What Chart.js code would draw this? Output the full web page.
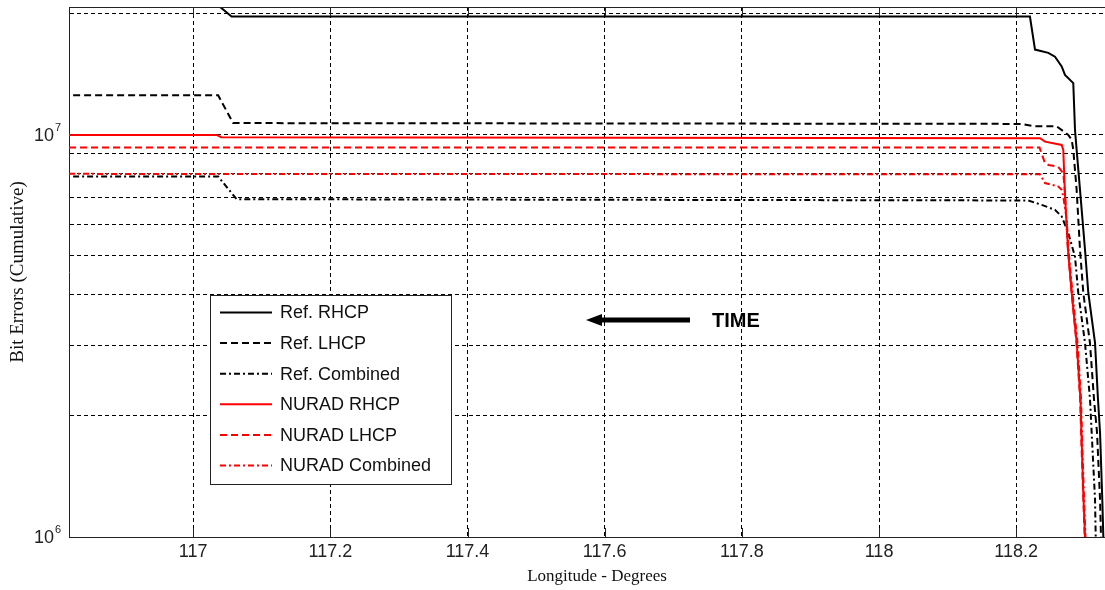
<!DOCTYPE html>
<html>
<head>
<meta charset="utf-8">
<script src="https://cdn.jsdelivr.net/npm/chart.js@4.4.0/dist/chart.umd.min.js"></script>
<style>
  html, body { margin: 0; padding: 0; background: #fff; overflow: hidden; }
  canvas { display: block; }
</style>
</head>
<body>
<canvas id="chart" width="1125" height="590"></canvas>
<script>
// longitude (degrees) and cumulative bit errors for each receiver track
const refRhcpLon = [116.82, 117.018, 117.056, 118.220, 118.2274, 118.2468, 118.2565, 118.2663, 118.2711, 118.2832, 118.2857, 118.2881, 118.2930, 118.3003, 118.3051, 118.3149, 118.3192, 118.3222, 118.3255, 118.3270, 118.3275];
const refRhcpErr = [2.23e7, 2.23e7, 1.97e7, 1.97e7, 1.63e7, 1.60e7, 1.565e7, 1.48e7, 1.41e7, 1.345e7, 1.03e7, 9.18e6, 7.30e6, 5.18e6, 4.05e6, 3.04e6, 2.20e6, 1.82e6, 1.24e6, 1.0e6, 9.5e5];

const refLhcpLon = [116.825, 117.0365, 117.0583, 118.2079, 118.2274, 118.2590, 118.2759, 118.2809, 118.2832, 118.2881, 118.2930, 118.2978, 118.3075, 118.3134, 118.3178, 118.3222, 118.3236, 118.3240];
const refLhcpErr = [1.254e7, 1.254e7, 1.07e7, 1.065e7, 1.05e7, 1.05e7, 1.0e7, 9.72e6, 9.18e6, 7.30e6, 5.18e6, 4.05e6, 3.04e6, 2.20e6, 1.82e6, 1.24e6, 1.0e6, 9.5e5];

const refCombLon = [116.825, 117.0365, 117.0633, 118.2175, 118.2371, 118.2565, 118.2663, 118.2759, 118.2857, 118.2905, 118.3003, 118.3076, 118.3100, 118.3149, 118.3159, 118.3163];
const refCombErr = [7.88e6, 7.88e6, 6.92e6, 6.87e6, 6.70e6, 6.51e6, 6.27e6, 5.70e6, 4.98e6, 4.04e6, 3.04e6, 2.20e6, 1.82e6, 1.24e6, 1.0e6, 9.5e5];

const nuradRhcpLon = [116.819, 117.034, 117.041, 118.2347, 118.2420, 118.2663, 118.2686, 118.2711, 118.2755, 118.2809, 118.2882, 118.2937, 118.2955, 118.2978, 118.3003, 118.3006];
const nuradRhcpErr = [1.0e7, 1.0e7, 9.87e6, 9.81e6, 9.62e6, 9.44e6, 9.18e6, 7.10e6, 5.18e6, 4.05e6, 3.04e6, 2.20e6, 1.72e6, 1.29e6, 1.0e6, 9.5e5];

const nuradLhcpLon = [116.819, 118.234, 118.242, 118.247, 118.261, 118.2686, 118.2711, 118.2750, 118.2805, 118.2878, 118.2932, 118.2950, 118.2975, 118.2998, 118.3001];
const nuradLhcpErr = [9.30e6, 9.30e6, 8.50e6, 8.42e6, 8.34e6, 8.03e6, 7.16e6, 5.30e6, 4.10e6, 3.05e6, 2.20e6, 1.72e6, 1.29e6, 1.0e6, 9.5e5];

const nuradCombLon = [116.819, 118.2347, 118.2420, 118.2614, 118.2663, 118.2686, 118.2736, 118.2769, 118.2820, 118.2894, 118.2945, 118.2962, 118.2986, 118.3010, 118.3013];
const nuradCombErr = [8.0e6, 7.98e6, 7.59e6, 7.44e6, 7.30e6, 7.03e6, 6.15e6, 5.03e6, 4.05e6, 3.04e6, 2.20e6, 1.72e6, 1.29e6, 1.0e6, 9.5e5];

const xTicks = [117, 117.2, 117.4, 117.6, 117.8, 118, 118.2];
const yGrid = [1e6, 2e6, 3e6, 4e6, 5e6, 6e6, 7e6, 8e6, 9e6, 1e7, 2e7];
const yDecades = [6, 7];

const xMin = 116.819, xMax = 118.3586;
const yMin = 1e6, yMax = 2.08e7;

const pts = (lon, err) => lon.map((x, i) => ({ x, y: err[i] }));

const DASH = [7, 4];
const DASHDOT = [6, 3, 2, 3];

function series(label, lon, err, color, dash, order) {
  return {
    label,
    data: pts(lon, err),
    borderColor: color,
    borderWidth: 2,
    borderDash: dash,
    borderCapStyle: 'butt',
    pointRadius: 0,
    tension: 0,
    fill: false,
    order
  };
}

const datasets = [
  series('Ref. RHCP', refRhcpLon, refRhcpErr, '#000', [], 2),
  series('Ref. LHCP', refLhcpLon, refLhcpErr, '#000', DASH, 2),
  series('Ref. Combined', refCombLon, refCombErr, '#000', DASHDOT, 2),
  series('NURAD RHCP', nuradRhcpLon, nuradRhcpErr, '#ff0000', [], 1),
  series('NURAD LHCP', nuradLhcpLon, nuradLhcpErr, '#ff0000', DASH, 1),
  series('NURAD Combined', nuradCombLon, nuradCombErr, '#ff0000', DASHDOT, 1)
];

// frame, inward ticks, 10^n labels, boxed legend and the TIME arrow
const decor = {
  id: 'decor',
  afterDraw(chart) {
    const { ctx, chartArea: a, scales } = chart;
    const xs = scales.x, ys = scales.y;
    ctx.save();

    ctx.strokeStyle = '#222';
    ctx.lineWidth = 1;
    ctx.setLineDash([]);
    ctx.beginPath();
    ctx.moveTo(a.left, a.top + 0.5);
    ctx.lineTo(a.right, a.top + 0.5);
    xTicks.forEach(v => {
      const px = Math.round(xs.getPixelForValue(v)) + 0.5;
      ctx.moveTo(px, a.bottom);
      ctx.lineTo(px, a.bottom - 9);
      ctx.moveTo(px, a.top);
      ctx.lineTo(px, a.top + 9);
    });
    ctx.stroke();

    // decade labels with superscript exponent
    ctx.fillStyle = '#222';
    yDecades.forEach(p => {
      const py = ys.getPixelForValue(Math.pow(10, p));
      ctx.font = '18px "Liberation Sans", Arial, sans-serif';
      ctx.textAlign = 'right';
      ctx.textBaseline = 'middle';
      ctx.fillText('10', 54, py + 1);
      ctx.font = '11px "Liberation Sans", Arial, sans-serif';
      ctx.textAlign = 'left';
      ctx.textBaseline = 'alphabetic';
      ctx.fillText(String(p), 55, py - 4);
    });

    // legend
    const lx = 210.5, ly = 295.5, lw = 241, lh = 189;
    ctx.fillStyle = '#fff';
    ctx.fillRect(lx, ly, lw, lh);
    ctx.strokeStyle = '#222';
    ctx.lineWidth = 1;
    ctx.strokeRect(lx, ly, lw, lh);
    chart.data.datasets.forEach((ds, i) => {
      const ry = 312.5 + i * 30.6;
      ctx.strokeStyle = ds.borderColor;
      ctx.lineWidth = 2;
      ctx.setLineDash(ds.borderDash);
      ctx.beginPath();
      ctx.moveTo(220, ry);
      ctx.lineTo(272, ry);
      ctx.stroke();
      ctx.setLineDash([]);
      ctx.fillStyle = '#111';
      ctx.font = '18px "Liberation Sans", Arial, sans-serif';
      ctx.textAlign = 'left';
      ctx.textBaseline = 'middle';
      ctx.fillText(ds.label, 280, ry + 1);
    });

    // time direction arrow
    ctx.strokeStyle = '#000';
    ctx.fillStyle = '#000';
    ctx.lineWidth = 5;
    ctx.beginPath();
    ctx.moveTo(690, 320);
    ctx.lineTo(598, 320);
    ctx.stroke();
    ctx.beginPath();
    ctx.moveTo(586, 320);
    ctx.lineTo(602, 314);
    ctx.lineTo(602, 326);
    ctx.closePath();
    ctx.fill();
    ctx.font = 'bold 20px "Liberation Sans", Arial, sans-serif';
    ctx.textAlign = 'left';
    ctx.textBaseline = 'middle';
    ctx.fillText('TIME', 712, 321);

    ctx.restore();
  }
};

new Chart(document.getElementById('chart').getContext('2d'), {
  type: 'line',
  data: { datasets },
  options: {
    responsive: false,
    animation: false,
    events: [],
    layout: { padding: { top: 7, right: 0, bottom: 0, left: 0 } },
    plugins: { legend: { display: false }, tooltip: { enabled: false } },
    scales: {
      x: {
        type: 'linear',
        min: xMin,
        max: xMax,
        afterBuildTicks: s => { s.ticks = xTicks.map(value => ({ value })); },
        afterFit: s => { s.height = 53; },
        grid: { color: '#000', lineWidth: 1, drawTicks: false },
        border: { display: true, color: '#222', width: 1, dash: [4, 3] },
        ticks: {
          autoSkip: false,
          maxRotation: 0,
          padding: 4,
          color: '#222',
          font: { family: '"Liberation Sans", Arial, sans-serif', size: 18 },
          callback: v => String(v)
        },
        title: {
          display: true,
          text: 'Longitude - Degrees',
          color: '#111',
          font: { family: '"Liberation Serif", "Times New Roman", serif', size: 17 },
          padding: { top: 0, bottom: 3 }
        }
      },
      y: {
        type: 'logarithmic',
        min: yMin,
        max: yMax,
        afterBuildTicks: s => { s.ticks = yGrid.map(value => ({ value })); },
        afterFit: s => { s.width = 69; },
        grid: { color: '#000', lineWidth: 1, drawTicks: false },
        border: { display: true, color: '#222', width: 1, dash: [4, 3] },
        ticks: { display: false },
        title: {
          display: true,
          text: 'Bit Errors (Cumulative)',
          color: '#111',
          font: { family: '"Liberation Serif", "Times New Roman", serif', size: 19 },
          padding: { top: 7, bottom: 0 }
        }
      }
    }
  },
  plugins: [decor]
});
</script>
</body>
</html>
